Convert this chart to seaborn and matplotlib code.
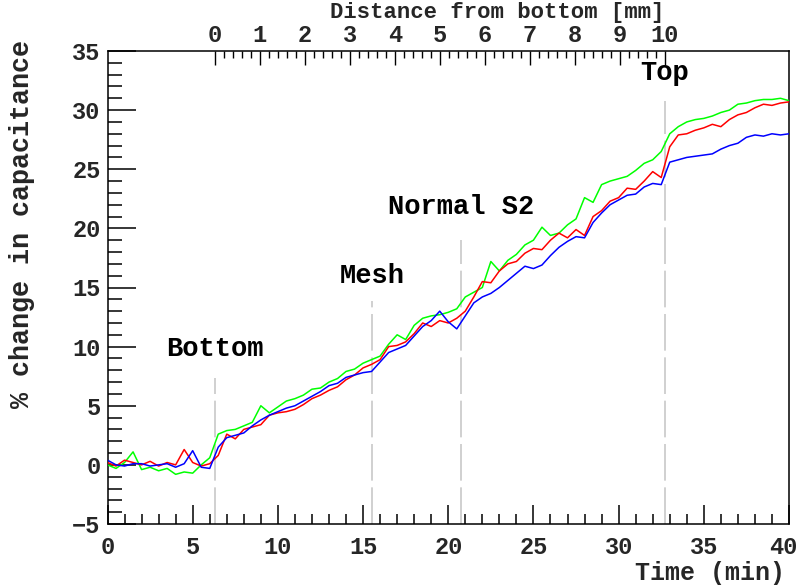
import numpy as np
import pandas as pd
import matplotlib
matplotlib.use("Agg")
import matplotlib.pyplot as plt
import matplotlib.transforms as mtransforms
from matplotlib.ticker import MultipleLocator, FixedLocator
import seaborn as sns

time_min = [i * 0.5 for i in range(81)]

green = [0.0, -0.3, 0.2, 1.1, -0.4, -0.2, -0.5, -0.3, -0.8, -0.6, -0.7, 0.0, 0.6,
         2.6, 2.9, 3.0, 3.3, 3.6, 5.0, 4.4, 4.9, 5.4, 5.6, 5.9, 6.4, 6.5, 7.0, 7.3,
         7.9, 8.1, 8.6, 8.9, 9.2, 10.2, 11.0, 10.6, 11.8, 12.4, 12.6, 12.7, 12.9, 13.2,
         14.2, 14.6, 15.0, 17.2, 16.4, 17.3, 17.8, 18.6, 19.0, 20.1, 19.4, 19.6, 20.3,
         20.8, 22.6, 22.2, 23.7, 24.0, 24.2, 24.4, 24.9, 25.5, 25.8, 26.5, 28.0, 28.6,
         29.0, 29.2, 29.3, 29.5, 29.8, 30.0, 30.5, 30.6, 30.8, 30.9, 30.9, 31.0, 30.8]

red = [0.2, -0.1, 0.4, 0.2, 0.0, 0.3, -0.1, 0.2, 0.0, 1.3, 0.2, -0.1, 0.1,
       0.8, 2.6, 2.2, 3.0, 3.2, 3.4, 4.2, 4.4, 4.5, 4.7, 5.1, 5.6, 5.9, 6.3, 6.6,
       7.2, 7.6, 8.2, 8.5, 8.9, 10.0, 10.1, 10.4, 11.1, 12.0, 11.7, 12.2, 12.0, 12.4,
       13.0, 14.2, 15.5, 15.4, 16.4, 17.0, 17.2, 17.9, 18.3, 18.2, 19.0, 19.6, 19.2,
       19.9, 19.4, 21.0, 21.5, 22.3, 22.6, 23.4, 23.3, 24.0, 24.8, 24.3, 26.9, 27.9,
       28.0, 28.3, 28.5, 28.8, 28.6, 29.2, 29.6, 29.8, 30.2, 30.5, 30.4, 30.6, 30.7]

blue = [0.4, 0.0, -0.1, 0.1, 0.1, -0.1, 0.0, 0.1, -0.2, 0.1, 1.2, -0.2, -0.3,
        1.5, 2.3, 2.5, 2.7, 3.3, 3.8, 4.2, 4.5, 4.8, 5.0, 5.4, 5.8, 6.2, 6.7, 6.9,
        7.4, 7.6, 7.8, 7.9, 8.7, 9.5, 9.8, 10.1, 10.9, 11.7, 12.2, 13.0, 12.1, 11.5,
        12.6, 13.7, 14.2, 14.5, 15.0, 15.6, 16.2, 16.8, 16.6, 16.9, 17.7, 18.4, 18.9,
        19.3, 19.2, 20.5, 21.3, 22.0, 22.4, 22.8, 22.9, 23.5, 23.8, 23.7, 25.6, 25.8,
        26.0, 26.1, 26.2, 26.3, 26.7, 27.0, 27.2, 27.7, 27.9, 27.8, 28.0, 27.9, 28.0]

marker_times = [6.3, 15.55, 20.75, 32.7]
marker_tops = [7.35, 13.9, 19.0, 30.8]
marker_labels = ["Bottom", "Mesh", "Normal S2", "Top"]
marker_label_y = [9.8, 16.0, 21.8, 33.1]

mm_ticks = list(range(0, 11))
mm_zero_time = 6.3
mm_ten_time = 32.7

df = pd.DataFrame({
    "time": time_min * 3,
    "value": green + red + blue,
    "series": ["green"] * 81 + ["red"] * 81 + ["blue"] * 81,
})

sns.set_style("ticks")
plt.rcParams["font.family"] = ["Liberation Mono", "DejaVu Sans Mono"]
plt.rcParams["font.weight"] = "bold"

fig = plt.figure(figsize=(8.02, 5.86), dpi=100)
ax = fig.add_axes([107.5 / 802, 62 / 586, (789 - 107.5) / 802, (524 - 51) / 586])

for t, top in zip(marker_times, marker_tops):
    ax.plot([t, t], [-5, top], color="#c8c8c8", lw=1.2, linestyle=(0, (22, 4)), zorder=1)

sns.lineplot(data=df, x="time", y="value", hue="series",
             palette={"green": "#00ff00", "red": "#ff0000", "blue": "#0000ff"},
             hue_order=["green", "red", "blue"], lw=1.1, legend=False, ax=ax,
             estimator=None, sort=False, zorder=3)

for t, ly, lab in zip(marker_times, marker_label_y, marker_labels):
    ax.text(t, ly, lab, ha="center", va="center", fontsize=19.5, fontweight="bold",
            color="black")

ax.set_xlim(0, 40)
ax.set_ylim(-5, 35)
ax.xaxis.set_major_locator(MultipleLocator(5))
ax.xaxis.set_minor_locator(MultipleLocator(1))
ax.yaxis.set_major_locator(MultipleLocator(5))
ax.yaxis.set_minor_locator(MultipleLocator(1))
ax.tick_params(axis="both", which="both", direction="in", top=False, right=False,
               width=1.1, color="black")
ax.tick_params(axis="x", which="major", length=14, pad=9, labelsize=17)
ax.tick_params(axis="x", which="minor", length=7)
ax.tick_params(axis="y", which="major", length=20, pad=5, labelsize=17)
ax.tick_params(axis="y", which="minor", length=10)
fig.canvas.draw()
xlabels = ax.get_xticklabels()
for lab in xlabels + ax.get_yticklabels():
    lab.set_fontweight("bold")
shift = mtransforms.ScaledTranslation(-6 / 100, 0, fig.dpi_scale_trans)
for lab in xlabels:
    if lab.get_text() in ("40",):
        lab.set_transform(lab.get_transform() + shift)
for sp in ax.spines.values():
    sp.set_linewidth(1.1)
    sp.set_color("black")

ax.set_xlabel("Time (min)", fontsize=18, fontweight="bold", loc="right")
ax.xaxis.set_label_coords(0.994, -0.078)
ax.set_ylabel("% change in capacitance", fontsize=19.3, fontweight="bold")
ax.yaxis.label.set_rotation_mode("default")
ax.yaxis.label.set_ha("center")
ax.yaxis.label.set_va("top")
ax.yaxis.set_label_coords((22 - 107.5) / 681.5, (524 - 40) / 473)

scale = (mm_ten_time - mm_zero_time) / 10.0
sec = ax.secondary_xaxis("top", functions=(lambda x: (x - mm_zero_time) / scale,
                                           lambda m: m * scale + mm_zero_time))
sec.xaxis.set_major_locator(FixedLocator(mm_ticks))
sec.xaxis.set_minor_locator(FixedLocator([i * 0.2 for i in range(51)]))
sec.tick_params(axis="x", which="both", direction="in", width=1.0, color="black")
sec.tick_params(axis="x", which="major", length=10, pad=3, labelsize=17)
sec.tick_params(axis="x", which="minor", length=5)
for lab in sec.get_xticklabels():
    lab.set_fontweight("bold")
sec.spines["top"].set_visible(False)
ax.text(mm_ten_time, 1.082, "Distance from bottom [mm]", transform=ax.get_xaxis_transform(),
        ha="right", va="center", fontsize=16, fontweight="bold")

fig.savefig("out.png", dpi=100, facecolor="white")
